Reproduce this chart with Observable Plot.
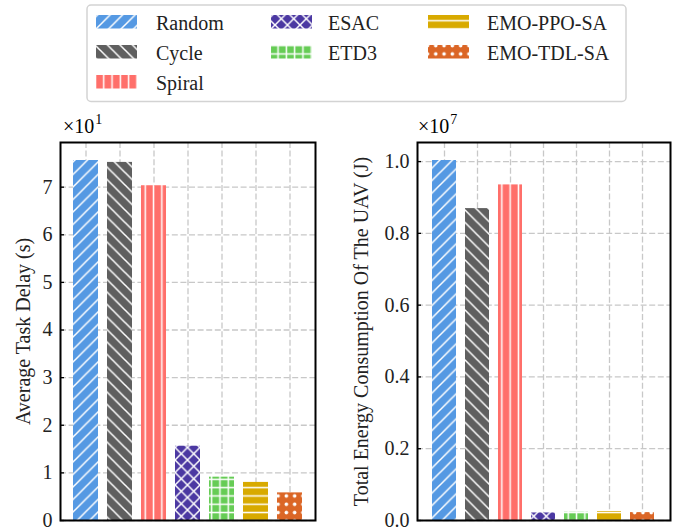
<!DOCTYPE html>
<html><head><meta charset="utf-8">
<script src="https://cdn.jsdelivr.net/npm/d3@7"></script>
<script src="https://cdn.jsdelivr.net/npm/@observablehq/plot@0.6"></script>
<style>
body{margin:0;background:#fff;}
#root{position:relative;width:673px;height:529px;overflow:hidden;font-family:"Liberation Serif","Times New Roman",serif;color:#000;}
.panel{position:absolute;top:110px;}
.panel svg, .panel svg text{font-family:"Liberation Serif","Times New Roman",serif !important;}
.offset{position:absolute;top:115px;font-size:20px;line-height:22px;white-space:nowrap;}
.offset sup{font-size:14px;vertical-align:0;position:relative;top:-9px;margin-left:1px;}
</style></head><body><div id="root"></div>
<script>
// ---- data ----
const methods = ["Random", "Cycle", "Spiral", "ESAC", "ETD3", "EMO-PPO-SA", "EMO-TDL-SA"];
const delaySeconds = [75.6, 75.2, 70.3, 15.6, 9.1, 8.0, 5.8];
const energyJoules = [1.003e7, 0.869e7, 0.935e7, 0.021e7, 0.023e7, 0.025e7, 0.022e7];
const colors = ["#5599E3", "#5F5F5F", "#FF6F6A", "#4B38A2", "#66CC55", "#D8AA00", "#DB6626"];
const hatches = ["/", "\\", "|", "x", "+", "-", "o"];
const delayTicks = [0, 1, 2, 3, 4, 5, 6, 7];
const energyTicks = [0, 0.2, 0.4, 0.6, 0.8, 1.0];
const delayLabel = "Average Task Delay (s)";
const energyLabel = "Total Energy Consumption Of The UAV (J)";

const root = d3.select("#root");
const FONT = '"Liberation Serif", "Times New Roman", serif';

// ---- hatch patterns ----
const defsSvg = root.append("svg").attr("width", 0).attr("height", 0).style("position", "absolute");
const defs = defsSvg.append("defs");
function addPattern(id, color, hatch) {
  const diag = 12.5, s = 8.3;
  const size = ("/\\x".includes(hatch)) ? diag : s;
  const p = defs.append("pattern").attr("id", id).attr("patternUnits", "userSpaceOnUse")
    .attr("width", size).attr("height", size);
  p.append("rect").attr("width", size).attr("height", size).attr("fill", color);
  const line = d => p.append("path").attr("d", d).attr("stroke", "#fff").attr("stroke-width", 1.5).attr("fill", "none");
  const D = diag;
  if (hatch === "/" || hatch === "x") line(`M0,${D}L${D},0M-3,3L3,-3M${D-3},${D+3}L${D+3},${D-3}`);
  if (hatch === "\\" || hatch === "x") line(`M0,0L${D},${D}M-3,${D-3}L3,${D+3}M${D-3},-3L${D+3},3`);
  if (hatch === "|" || hatch === "+") line(`M${s/2},0V${s}`);
  if (hatch === "-" || hatch === "+") line(`M0,${s/2}H${s}`);
  if (hatch === "o") p.append("circle").attr("cx", s/2).attr("cy", s/2).attr("r", 1.8).attr("fill", "#fff");
}
methods.forEach((m, i) => addPattern(`hatch-${i}`, colors[i], hatches[i]));

// ---- legend ----
const leg = root.append("svg").attr("width", 673).attr("height", 110).style("position", "absolute").style("left", 0).style("top", 0);
leg.append("rect").attr("x", 87).attr("y", 5).attr("width", 539).attr("height", 96.5).attr("rx", 4)
  .attr("fill", "#fff").attr("stroke", "#d3d3d3").attr("stroke-width", 1.5);
const colX = [96, 271, 428], textX = [156, 328, 487], rowTop = [15, 45, 75];
methods.forEach((m, i) => {
  const cidx = i < 3 ? 0 : (i < 5 ? 1 : 2);
  const ridx = i < 3 ? i : (i < 5 ? i - 3 : i - 5);
  leg.append("rect").attr("x", colX[cidx]).attr("y", rowTop[ridx]).attr("width", 41).attr("height", 13.5)
    .attr("fill", `url(#hatch-${i})`);
  leg.append("text").attr("x", textX[cidx]).attr("y", rowTop[ridx] + 15).text(m)
    .style("font-family", FONT).style("font-size", "20px").attr("fill", "#222");
});

// ---- panels ----
function panel({values, factor, ticks, fmt, label, width, marginLeft, marginRight, labelOffset, left}) {
  const data = methods.map((m, i) => ({method: m, value: values[i] / factor}));
  const ymax = d3.max(data, d => d.value) * 1.05;
  const chart = Plot.plot({
    width, height: 419,
    marginTop: 32, marginBottom: 9, marginLeft, marginRight,
    style: {fontFamily: FONT, fontSize: "20px", color: "#000", background: "transparent", overflow: "visible"},
    x: {type: "band", domain: methods, paddingInner: 0.265, paddingOuter: 0.382, axis: null},
    y: {domain: [0, ymax], axis: null},
    color: {domain: methods, range: methods.map((m, i) => `url(#hatch-${i})`)},
    marks: [
      Plot.gridX({stroke: "#c8c8c8", strokeOpacity: 1, strokeWidth: 1.3, strokeDasharray: "6,2.6"}),
      Plot.gridY(ticks, {stroke: "#c8c8c8", strokeOpacity: 1, strokeWidth: 1.3, strokeDasharray: "6,2.6"}),
      Plot.barY(data, {x: "method", y: "value", fill: "method"}),
      Plot.axisY(ticks, {tickSize: 4, dx: 4, fill: "none", strokeWidth: 1.3, label: null}),
      Plot.axisY(ticks, {tickSize: 0, tickPadding: 8, tickFormat: fmt, label, labelAnchor: "center", labelArrow: "none", labelOffset, fill: "#222"}),
      Plot.frame({stroke: "#000", strokeWidth: 2})
    ]
  });
  const div = root.append("div").attr("class", "panel").style("left", left + "px");
  div.node().appendChild(chart);
}

panel({values: delaySeconds, factor: 10, ticks: delayTicks, fmt: d3.format("d"), label: delayLabel,
  width: 330, marginLeft: 60, marginRight: 15, labelOffset: 45, left: 0});
panel({values: energyJoules, factor: 1e7, ticks: energyTicks, fmt: d3.format(".1f"), label: energyLabel,
  width: 333, marginLeft: 77, marginRight: 3, labelOffset: 64, left: 340});

root.append("div").attr("class", "offset").style("left", "63px").html("×10<sup>1</sup>");
root.append("div").attr("class", "offset").style("left", "418px").html("×10<sup>7</sup>");
</script></body></html>
